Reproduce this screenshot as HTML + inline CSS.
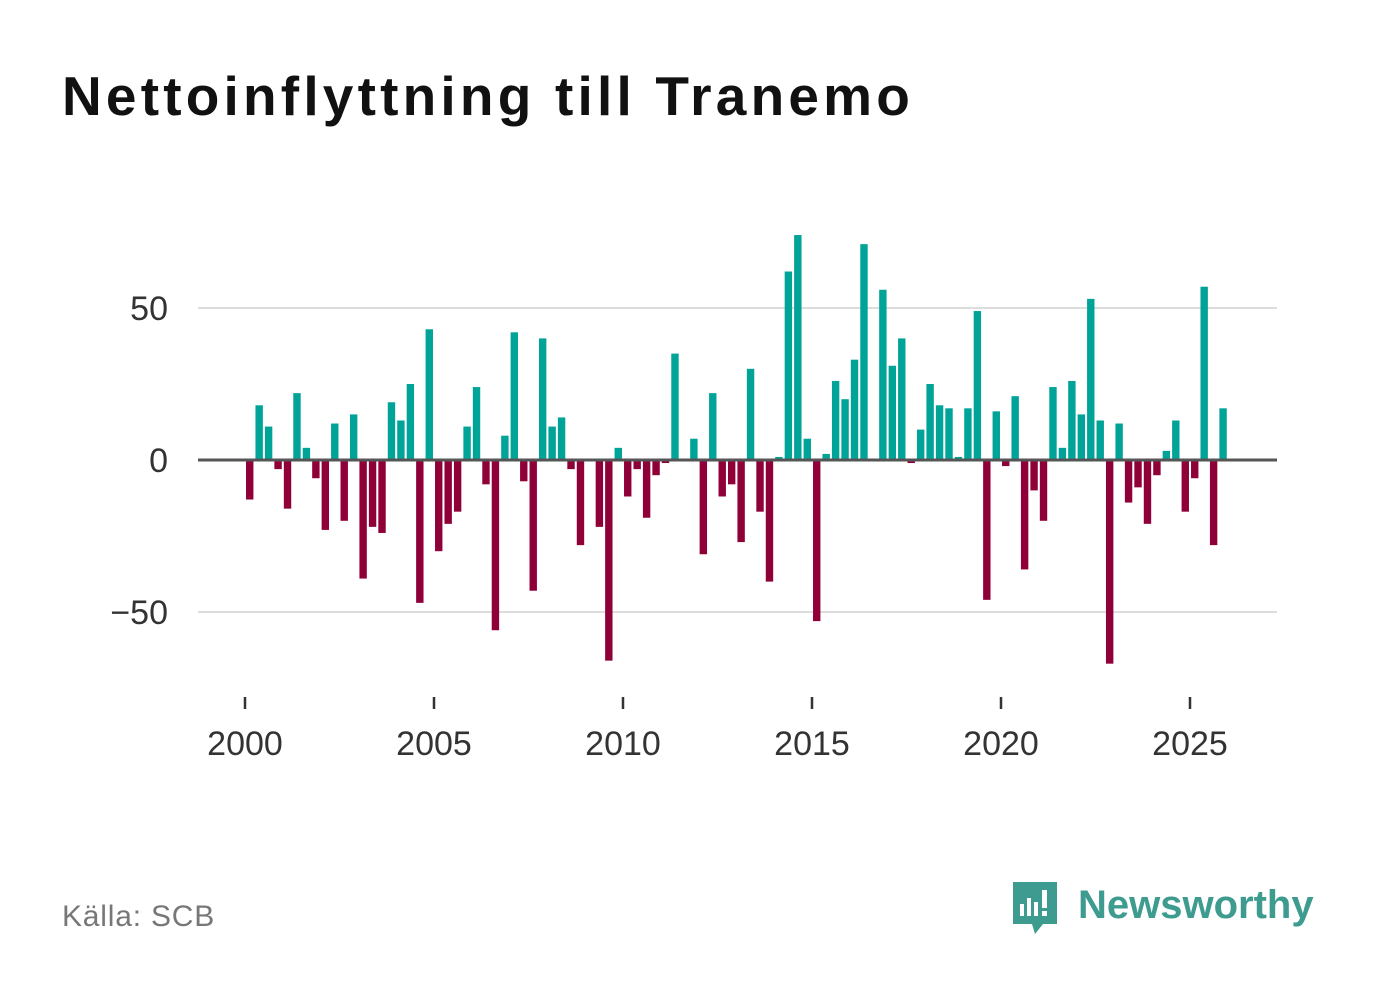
<!DOCTYPE html>
<html><head><meta charset="utf-8">
<style>
body{margin:0;background:#fff;width:1382px;height:999px;overflow:hidden;font-family:"Liberation Sans",sans-serif;}
#title{position:absolute;left:62px;top:64px;font-size:55px;font-weight:bold;color:#111;margin:0;letter-spacing:4.2px;}
#source{position:absolute;left:62px;top:900px;font-size:30px;color:#777;letter-spacing:0.8px;}
#logo{position:absolute;left:1010px;top:878px;}
</style></head><body>
<h1 id="title">Nettoinflyttning till Tranemo</h1>
<svg id="chart" width="1382" height="999" style="position:absolute;left:0;top:0"></svg>
<div id="source">Källa: SCB</div>
<svg id="logo" width="320" height="64">
<path d="M3 4h44v42h-14l-8 10-3-10H3z" fill="#3d9b8f"/>
<rect x="10" y="26" width="4" height="12" fill="#fff"/><rect x="17" y="20" width="4" height="18" fill="#fff"/><rect x="24" y="24" width="4" height="14" fill="#fff"/><rect x="32" y="12" width="5" height="18" fill="#fff"/><rect x="32" y="33" width="5" height="5" fill="#fff"/>
<text x="68" y="40" font-family="Liberation Sans, sans-serif" font-size="40" font-weight="bold" fill="#3d9b8f">Newsworthy</text>
</svg>
<script>
const years=[2000,2005,2010,2015,2020,2025];
const quarters=["Q1","Q2","Q3","Q4"];
const values=[-13,18,11,-3,-16,22,4,-6,-23,12,-20,15,-39,-22,-24,19,13,25,-47,43,-30,-21,-17,11,24,-8,-56,8,42,-7,-43,40,11,14,-3,-28,0,-22,-66,4,-12,-3,-19,-5,-1,35,0,7,-31,22,-12,-8,-27,30,-17,-40,1,62,74,7,-53,2,26,20,33,71,0,56,31,40,-1,10,25,18,17,1,17,49,-46,16,-2,21,-36,-10,-20,24,4,26,15,53,13,-67,12,-14,-9,-21,-5,3,13,-17,-6,57,-28,17];
const yTicks=[-50,0,50];
const startYear=2000;
const NS="http://www.w3.org/2000/svg";
const svg=document.getElementById('chart');
const xs=t=>245+(t-2000)*37.8;
const ys=v=>460-v*3.04;
function mk(tag,attrs){const e=document.createElementNS(NS,tag);for(const k in attrs)e.setAttribute(k,attrs[k]);svg.appendChild(e);return e;}
yTicks.forEach(v=>{
  if(v!==0){const g=mk('line',{x1:198,x2:1277,y1:ys(v),y2:ys(v),stroke:'#ddd','stroke-width':2});
  
  }
  const t=mk('text',{x:168,y:ys(v)+12,'text-anchor':'end','font-size':34,fill:'#333','font-family':'Liberation Sans, sans-serif'});
  t.textContent=v<0?'\u2212'+Math.abs(v):String(v);
  
  
});
values.forEach((v,i)=>{
  const t=startYear+i*0.25+0.125;
  const y0=ys(Math.max(v,0)),h=Math.abs(ys(v)-ys(0));
  const r=mk('rect',{x:xs(t)-3.7,y:y0,width:7.4,height:h,fill:v>=0?'#00a398':'#8f0038'});
  
  
});
const z=mk('line',{x1:198,x2:1277,y1:ys(0),y2:ys(0),stroke:'#555','stroke-width':3});


years.forEach(yr=>{
  const l=mk('line',{x1:xs(yr),x2:xs(yr),y1:697,y2:709,stroke:'#333','stroke-width':2.5});
  
  
  const t=mk('text',{x:xs(yr),y:755,'text-anchor':'middle','font-size':34,fill:'#333','font-family':'Liberation Sans, sans-serif'});
  t.textContent=yr;
  
  
});
</script>
</body></html>
